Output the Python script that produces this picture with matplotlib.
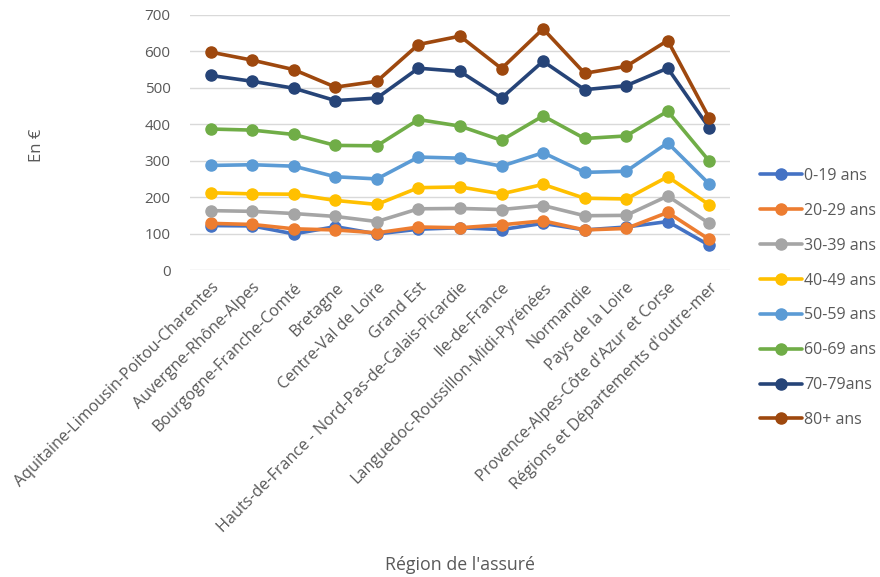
import matplotlib
matplotlib.use("Agg")
import matplotlib.pyplot as plt

plt.rcParams['font.family'] = ['Open Sans', 'DejaVu Sans']

# regions (x axis)
regions = [
    "Aquitaine-Limousin-Poitou-Charentes",
    "Auvergne-Rhône-Alpes",
    "Bourgogne-Franche-Comté",
    "Bretagne",
    "Centre-Val de Loire",
    "Grand Est",
    "Hauts-de-France - Nord-Pas-de-Calais-Picardie",
    "Ile-de-France",
    "Languedoc-Roussillon-Midi-Pyrénées",
    "Normandie",
    "Pays de la Loire",
    "Provence-Alpes-Côte d'Azur et Corse",
    "Régions et Départements d'outre-mer",
]

# amounts in € per age group
age_0_19 = [122, 121, 99, 119, 99, 112, 116, 111, 128, 110, 118, 133, 68]
age_20_29 = [128, 125, 113, 110, 102, 118, 116, 124, 135, 110, 114, 158, 84]
age_30_39 = [163, 161, 155, 147, 133, 168, 169, 166, 177, 149, 150, 203, 128]
age_40_49 = [212, 209, 208, 191, 180, 226, 228, 209, 235, 197, 195, 256, 179]
age_50_59 = [287, 289, 285, 256, 250, 310, 307, 285, 322, 268, 271, 349, 236]
age_60_69 = [387, 384, 372, 342, 341, 413, 395, 356, 423, 361, 368, 436, 299]
age_70_79 = [534, 518, 499, 465, 472, 554, 545, 472, 573, 495, 506, 554, 390]
age_80_plus = [598, 576, 550, 502, 518, 619, 642, 553, 662, 540, 559, 630, 417]

series = [
    ("0-19 ans", age_0_19, "#4472C4"),
    ("20-29 ans", age_20_29, "#ED7D31"),
    ("30-39 ans", age_30_39, "#A5A5A5"),
    ("40-49 ans", age_40_49, "#FFC000"),
    ("50-59 ans", age_50_59, "#5B9BD5"),
    ("60-69 ans", age_60_69, "#70AD47"),
    ("70-79ans", age_70_79, "#264478"),
    ("80+ ans", age_80_plus, "#9E480E"),
]

text_color = "#595959"

fig = plt.figure(figsize=(8.8, 5.77), dpi=100)
ax = fig.add_axes([190 / 880, 1 - 270 / 577, 540 / 880, 255 / 577])

x = list(range(len(regions)))
for label, vals, color in series:
    ax.plot(x, vals, color=color, linewidth=2.6, marker="o", markersize=8,
            label=label, solid_capstyle="round")

ax.set_xlim(-0.5, len(regions) - 0.5)
ax.set_ylim(0, 700)
ax.set_yticks(range(0, 701, 100))
ax.yaxis.grid(True, color="#D9D9D9", linewidth=1)
ax.set_axisbelow(True)
for s in ax.spines.values():
    s.set_visible(False)
ax.tick_params(axis="both", length=0, colors=text_color, labelsize=11)
ax.tick_params(axis="y", pad=14)
ax.set_xticks(x)
ax.set_xticklabels(regions, rotation=45, ha="right", va="top",
                   rotation_mode="anchor", fontsize=11.6)
ax.tick_params(axis="x", pad=7)

fig.text(37 / 880, 1 - 145 / 577, "En €", rotation=90, ha="center",
         va="center", color=text_color, fontsize=12)
fig.text(460 / 880, 1 - 565 / 577, "Région de l'assuré", ha="center",
         va="center", color=text_color, fontsize=12.8)

leg = fig.legend(loc="center left", bbox_to_anchor=(752 / 880, 1 - 298 / 577),
                 frameon=False, fontsize=11.5, labelspacing=1.18,
                 handlelength=2.6, handletextpad=0.15, borderpad=0)
for t in leg.get_texts():
    t.set_color(text_color)

fig.savefig("out.png", dpi=100)
